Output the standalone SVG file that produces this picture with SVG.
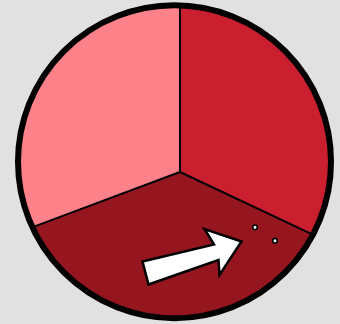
<svg xmlns="http://www.w3.org/2000/svg" width="340" height="324" viewBox="0 0 340 324">
<style>
.sec{stroke:none}
.edge{fill:none;stroke:#000;stroke-width:2;stroke-linecap:round}
.rim{fill:none;stroke:#000;stroke-width:6}
.arrow{fill:#fff;stroke:#000;stroke-width:2.5;stroke-linejoin:miter}
.dot{fill:#fff;stroke:#000;stroke-width:1.6}
</style>
<rect width="340" height="324" fill="#e1e1e1"/>
<g id="sector-left"><path class="sec" fill="#ff8189" d="M180,172 L180,4.6 A157,157 0 0 0 32,227.4 Z"/></g>
<g id="sector-right"><path class="sec" fill="#c91f2e" d="M180,172 L180,4.6 A157,157 0 0 1 313.4,234.8 Z"/></g>
<g id="sector-bottom"><path class="sec" fill="#96161f" d="M180,172 L313.4,234.8 A157,157 0 0 1 32,227.4 Z"/></g>
<g id="connectors">
<path class="edge" d="M180,172 L180,5 M180,172 L32,227.4 M180,172 L313.4,234.8"/>
</g>
<g id="rim"><circle class="rim" cx="174.5" cy="161.7" r="156.5"/></g>
<g id="arrow"><polygon class="arrow" points="142.5,261.5 214,244.5 204.5,229 241.5,241.5 219.5,275 218.5,260 148.5,284.5"/></g>
<g id="dots">
<circle class="dot" cx="255" cy="227.3" r="2.3"/>
<circle class="dot" cx="275" cy="240.7" r="2.3"/>
</g>
</svg>
